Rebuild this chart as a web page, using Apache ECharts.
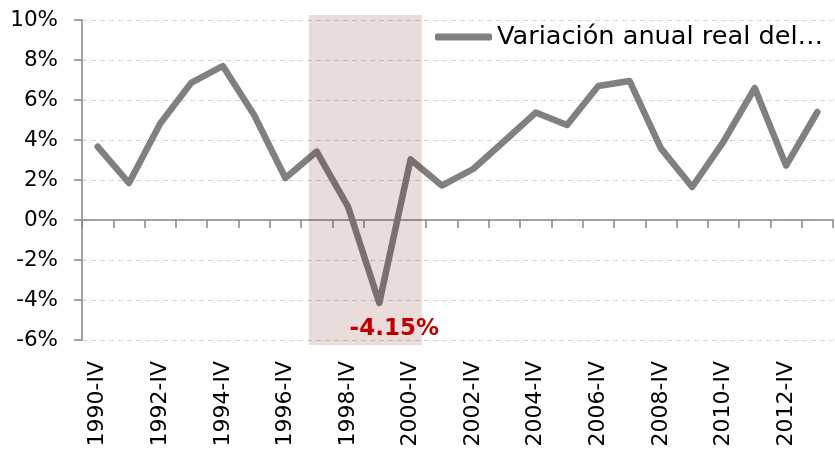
<!DOCTYPE html>
<html>
<head>
<meta charset="utf-8">
<script src="https://cdn.jsdelivr.net/npm/echarts@6/dist/echarts.min.js"></script>
<style>
html,body{margin:0;padding:0;background:#fff;}
#chart{width:835px;height:452px;}
</style>
</head>
<body>
<div id="chart"></div>
<script>
var quarters = ['1990-IV','1991-IV','1992-IV','1993-IV','1994-IV','1995-IV','1996-IV','1997-IV',
    '1998-IV','1999-IV','2000-IV','2001-IV','2002-IV','2003-IV','2004-IV','2005-IV',
    '2006-IV','2007-IV','2008-IV','2009-IV','2010-IV','2011-IV','2012-IV','2013-IV'];
var variacion = [3.67, 1.85, 4.83, 6.87, 7.7, 5.25, 2.1, 3.42, 0.67, -4.15, 3.03, 1.72,
    2.55, 3.95, 5.37, 4.75, 6.7, 6.95, 3.58, 1.65, 3.92, 6.6, 2.72, 5.4];
var serieName = 'Variación anual real del…';
// crisis band, in category units along the axis and % on the value axis
var shadeX = [7.25, 10.86];
var shadeY = [-6.25, 10.25];

(function(){
    var chart = echarts.init(document.getElementById('chart'));
    var font = 'DejaVu Sans';

    // lowest point gets the red note
    var minIdx = 0;
    for (var i = 1; i < variacion.length; i++) {
        if (variacion[i] < variacion[minIdx]) minIdx = i;
    }

    var option = {
        animation: false,
        textStyle: {fontFamily: font},
        grid: {left: 82, right: 2, top: 20, bottom: 112, containLabel: false, outerBoundsMode: 'none'},
        legend: {
            data: [serieName],
            left: 435,
            top: 24,
            padding: 0,
            icon: 'roundRect',
            itemWidth: 57,
            itemHeight: 7,
            textStyle: {fontSize: 25.6, color: '#000', fontFamily: font}
        },
        xAxis: [
            {
                type: 'category',
                data: quarters,
                axisLine: {onZero: true, lineStyle: {color: '#868686', width: 1.5}},
                axisTick: {show: true, interval: 0, length: 8, lineStyle: {color: '#868686', width: 1.5}},
                axisLabel: {show: false},
                splitLine: {show: false}
            },
            {
                type: 'category',
                data: quarters,
                position: 'bottom',
                axisLine: {show: false, onZero: false},
                axisTick: {show: false},
                axisLabel: {interval: 1, rotate: 90, fontSize: 22, margin: 21, color: '#000', fontFamily: font},
                splitLine: {show: false}
            },
            {
                type: 'value',
                min: 0,
                max: quarters.length,
                show: false
            }
        ],
        yAxis: {
            type: 'value',
            min: -6,
            max: 10,
            interval: 2,
            axisLine: {show: true, lineStyle: {color: '#868686', width: 1.5}},
            axisTick: {show: true, length: 8, lineStyle: {color: '#868686', width: 1.5}},
            axisLabel: {formatter: '{value}%', fontSize: 21.5, margin: 24, color: '#000', fontFamily: font},
            splitLine: {lineStyle: {color: '#d4d4d4', type: [5, 4], width: 1.2}}
        },
        series: [
            {
                name: serieName,
                type: 'line',
                data: variacion,
                symbol: 'none',
                z: 2,
                color: '#808080',
                lineStyle: {width: 6.5, color: '#808080', cap: 'round', join: 'round'}
            },
            {
                // sombreado 1997-2000
                type: 'custom',
                xAxisIndex: 2,
                z: 3,
                silent: true,
                clip: false,
                data: [[shadeX[0], shadeX[1], shadeY[0], shadeY[1]]],
                encode: {x: [0, 1], y: [2, 3]},
                renderItem: function (params, api) {
                    var p0 = api.coord([api.value(0), api.value(3)]);
                    var p1 = api.coord([api.value(1), api.value(2)]);
                    return {
                        type: 'rect',
                        shape: {x: p0[0], y: p0[1], width: p1[0] - p0[0], height: p1[1] - p0[1]},
                        style: {fill: 'rgba(110,10,10,0.14)'}
                    };
                }
            },
            {
                type: 'line',
                data: variacion,
                symbol: 'none',
                silent: true,
                z: 5,
                lineStyle: {opacity: 0},
                markPoint: {
                    symbol: 'circle',
                    symbolSize: 1,
                    itemStyle: {color: 'rgba(0,0,0,0)'},
                    data: [{coord: [quarters[minIdx], variacion[minIdx]], value: variacion[minIdx]}],
                    label: {
                        show: true,
                        position: 'inside',
                        offset: [15, 26],
                        formatter: function (p) { return p.value.toFixed(2) + '%'; },
                        fontSize: 23,
                        fontWeight: 'bold',
                        color: '#c00000',
                        fontFamily: font
                    }
                }
            }
        ]
    };

    chart.setOption(option);
})();
</script>
</body>
</html>
